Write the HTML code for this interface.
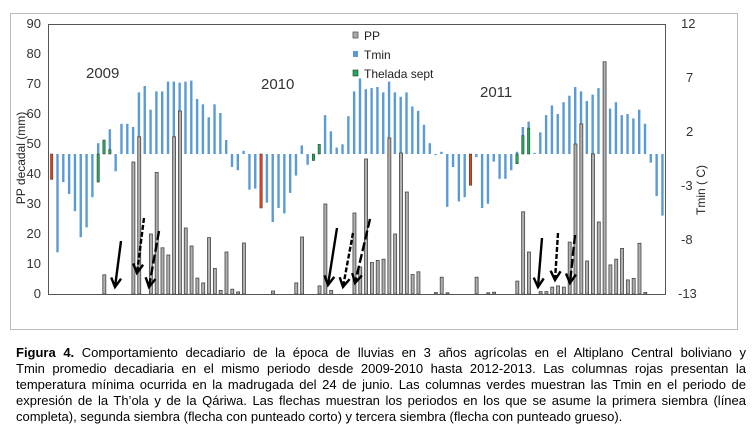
<!DOCTYPE html>
<html><head><meta charset="utf-8">
<style>
html,body{margin:0;padding:0;background:#fff;width:754px;height:435px;overflow:hidden}
#cap{position:absolute;left:16px;top:345px;width:730px;font-family:"Liberation Sans",Arial,sans-serif;font-size:13px;line-height:16px;color:#000}
#cap div{text-align:justify;text-align-last:justify;white-space:nowrap}
#cap div.l{text-align-last:left}
</style></head><body>
<svg id="s" width="754" height="435" style="position:absolute;left:0;top:0" font-family="Liberation Sans, Arial, sans-serif">
<rect x="10.5" y="13.5" width="727" height="316" fill="#fff" stroke="#bbb" stroke-width="1"/>
<g id="bars"></g>
<rect x="48.5" y="24.5" width="617" height="270" fill="none" stroke="#555" stroke-width="1"/>
<g font-size="13" fill="#333" text-anchor="end">
<text x="41" y="28">90</text><text x="41" y="58">80</text><text x="41" y="88">70</text><text x="41" y="118">60</text><text x="41" y="148">50</text><text x="41" y="178">40</text><text x="41" y="208">30</text><text x="41" y="238">20</text><text x="41" y="268">10</text><text x="41" y="298">0</text>
</g>
<g font-size="13" fill="#333" text-anchor="start">
<text x="681" y="28">12</text><text x="686" y="82">7</text><text x="686" y="136">2</text><text x="681" y="190">-3</text><text x="681" y="244">-8</text><text x="678" y="298">-13</text>
</g>
<text transform="translate(25,158) rotate(-90)" font-size="12" fill="#222" text-anchor="middle">PP decadal (mm)</text>
<text transform="translate(705,190) rotate(-90)" font-size="12" fill="#222" text-anchor="middle">Tmin ( C)</text>
<g font-size="15" fill="#333">
<text x="86" y="78">2009</text><text x="261" y="89">2010</text><text x="480" y="97">2011</text>
</g>
<g font-size="12" fill="#222">
<rect x="353" y="32" width="5" height="6" fill="#aaa" stroke="#555" stroke-width="0.8"/><text x="364" y="40">PP</text>
<rect x="353" y="51" width="5" height="6" fill="#5b9bd5"/><text x="364" y="59">Tmin</text>
<rect x="353" y="70" width="5" height="6" fill="#1daa5a" stroke="#333" stroke-width="0.6"/><text x="364" y="78">Thelada sept</text>
</g>
<g id="arr" stroke="#000" fill="none" stroke-width="2.4"></g>
</svg>
<div id="cap">
<div><b>Figura 4.</b> Comportamiento decadiario de la época de lluvias en 3 años agrícolas en el Altiplano Central boliviano y</div>
<div>Tmin promedio decadiaria en el mismo periodo desde 2009-2010 hasta 2012-2013. Las columnas rojas presentan la</div>
<div>temperatura mínima ocurrida en la madrugada del 24 de junio. Las columnas verdes muestran las Tmin en el periodo de</div>
<div>expresión de la Th’ola y de la Qáriwa. Las flechas muestran los periodos en los que se asume la primera siembra (línea</div>
<div class="l">completa), segunda siembra (flecha con punteado corto) y tercera siembra (flecha con punteado grueso).</div>
</div>
<script>
var T=[null,-9.1,-2.6,-3.7,-5.3,-7.7,-6.8,-4.0,1.0,null,2.3,-1.6,2.8,2.8,2.5,5.7,6.3,4.1,5.8,5.8,6.7,6.7,6.6,6.7,6.8,5.1,4.6,3.4,4.6,3.8,1.3,-1.2,-1.5,0.3,-3.3,-3.2,null,-4.5,-6.3,-5.0,-5.5,-3.6,-2.0,0.8,-1.0,null,null,3.6,2.1,0.6,0.9,3.5,5.8,7.0,6.0,6.1,6.2,5.7,6.7,5.7,5.3,5.7,4.4,4.0,2.7,1.0,-0.1,0.2,-4.9,-1.2,-4.4,-4.0,null,-0.3,-5.0,-4.6,-0.7,-2.3,-2.3,-1.5,0.2,2.5,3.0,0.1,2.0,3.6,4.5,3.7,4.8,5.4,6.2,5.8,4.9,5.5,6.1,5.6,4.2,4.8,3.6,3.7,3.3,4.1,2.8,-0.8,-3.9,-5.7];
var RED={0:-2.35,36:-5.0,72:-2.9};
var GR={8:-2.6,9:1.3,10:0.4,45:-0.6,46:0.9,80:-0.9,81:1.7,82:2.4};
var P={9:6.4,14:44,15:52.4,17:20,18:40.5,19:15.4,20:13,21:52.4,22:61,23:22,24:16,25:5.3,26:3.7,27:18.8,28:8.5,29:1.2,30:14,31:1.6,32:0.7,33:17,38:1,42:3.7,43:19,46:2.7,47:30,48:1.2,52:27,53:9,54:45,55:10.5,56:11.2,57:11.6,58:52,59:20,60:47,61:34,62:6.5,63:7.4,66:0.5,67:5.6,68:0.4,73:5.6,75:0.4,76:0.6,80:4.3,81:27.4,82:14,84:0.8,85:0.8,86:2.3,87:2.7,88:2.3,89:17.3,90:50,91:56.7,92:11,93:46.7,94:24,95:77.4,96:9.7,97:11.6,98:15.2,99:4.7,100:5.2,101:16.9,102:0.5};
var g=document.getElementById('bars'),h='';
function ty(v){return 154-v*10.8}
function rb(x,v,c,s){var y1=ty(v),y0=154;var t=Math.min(y0,y1),hh=Math.abs(y1-y0);h+='<rect x="'+(x-1.2).toFixed(2)+'" y="'+t.toFixed(1)+'" width="2.4" height="'+hh.toFixed(1)+'" fill="'+c+'"'+(s?' stroke="#333" stroke-width="0.5"':'')+'/>';}
for(var i=0;i<106;i++){var x=51.67+5.817*i;
 if(T[i]!==null)rb(x,T[i],'#5b9bd5');
 if(RED[i]!==undefined)rb(x,RED[i],'#e8401c',1);
 if(GR[i]!==undefined)rb(x,GR[i],'#1daa5a',1);}
for(var k in P){var x=51.67+5.817*k+0.3,v=P[k],y=294-v*3;h+='<rect x="'+(x-1.5).toFixed(2)+'" y="'+y.toFixed(1)+'" width="3" height="'+(v*3).toFixed(1)+'" fill="#b0b0b0" stroke="#444" stroke-width="0.8"/>';}
g.innerHTML=h;
var A=[[121,241,115,287,''],[144,218,137,273,'5,2'],[159,231,149,287,'9,3'],[337,228,328,285,''],[353,233,343,287,'5,2'],[370,219,355,283,'9,3'],[542,238,538,287,''],[558,233,555,280,'5,2'],[575,235,570,283,'9,3']];
var a='';A.forEach(function(r){var dx=r[2]-r[0],dy=r[3]-r[1],L=Math.hypot(dx,dy),ux=dx/L,uy=dy/L,px=-uy,py=ux;
a+='<line x1="'+r[0]+'" y1="'+r[1]+'" x2="'+r[2]+'" y2="'+r[3]+'"'+(r[4]?' stroke-dasharray="'+r[4]+'"':'')+'/>';
var bx=r[2]-ux*9,by=r[3]-uy*9;a+='<polyline points="'+(bx+px*5).toFixed(1)+','+(by+py*5).toFixed(1)+' '+r[2]+','+r[3]+' '+(bx-px*5).toFixed(1)+','+(by-py*5).toFixed(1)+'"/>';});
document.getElementById('arr').innerHTML=a;
</script>
</body></html>
